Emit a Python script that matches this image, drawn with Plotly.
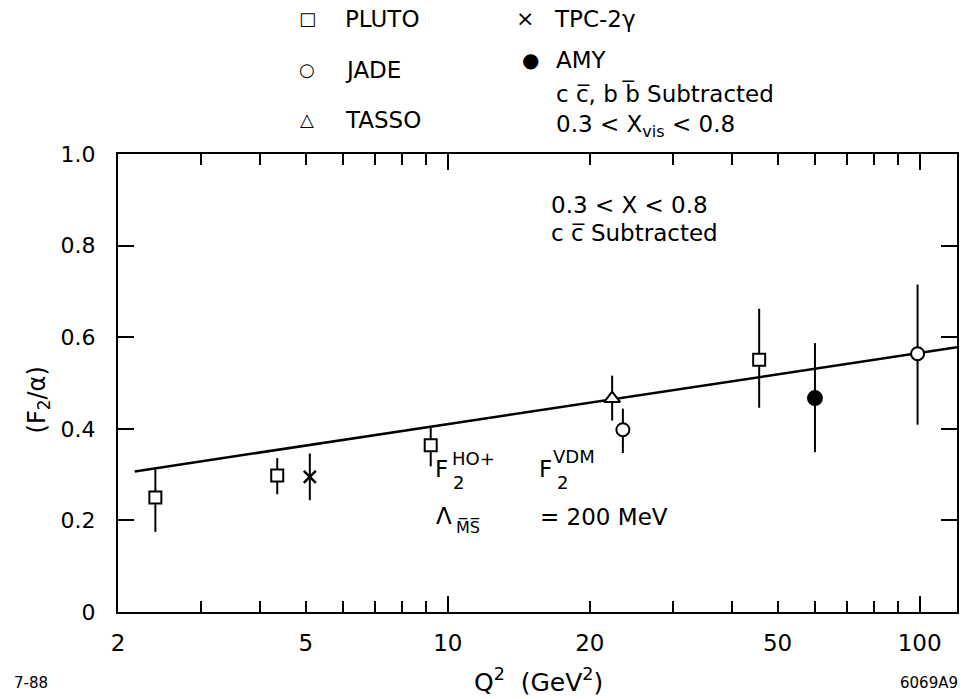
import math
import plotly.graph_objects as go

# ---------------- data ----------------
pluto_q2 = [2.4, 4.35, 9.2, 45.7]
pluto_f = [0.250, 0.298, 0.364, 0.551]
pluto_up = [0.061, 0.038, 0.038, 0.111]
pluto_dn = [0.075, 0.041, 0.046, 0.105]

tpc_q2 = [5.1]
tpc_f = [0.295]
tpc_up = [0.051]
tpc_dn = [0.051]

jade_q2 = [23.5, 99.0]
jade_f = [0.398, 0.564]
jade_up = [0.046, 0.151]
jade_dn = [0.051, 0.155]

tasso_q2 = [22.3]
tasso_f = [0.466]
tasso_up = [0.050]
tasso_dn = [0.048]

amy_q2 = [60.0]
amy_f = [0.467]
amy_up = [0.120]
amy_dn = [0.118]

theory_q2 = [2.17, 120.0]
theory_f = [0.307, 0.578]

x_tick_vals = [2, 5, 10, 20, 50, 100]
x_tick_text = ["2", "5", "10", "20", "50", "100"]
x_minor_vals = [3, 4, 6, 7, 8, 9, 30, 40, 60, 70, 80, 90]
x_long_vals = [10, 100]
y_tick_vals = [0, 0.2, 0.4, 0.6, 0.8, 1.0]
y_tick_text = ["0", "0.2", "0.4", "0.6", "0.8", "1.0"]

FONT = "DejaVu Sans"
BLACK = "black"

fig = go.Figure()

fig.add_trace(go.Scatter(x=theory_q2, y=theory_f, mode="lines",
                         line=dict(color=BLACK, width=2.5), showlegend=False))


def err(up, dn):
    return dict(type="data", symmetric=False, array=up, arrayminus=dn,
                color=BLACK, thickness=2, width=0)


def add_points(q2, f, up, dn, symbol, fill, size, lw=2):
    fig.add_trace(go.Scatter(
        x=q2, y=f, mode="markers", error_y=err(up, dn),
        marker=dict(symbol=symbol, size=size, color=fill,
                    line=dict(color=BLACK, width=lw)),
        showlegend=False))


add_points(pluto_q2, pluto_f, pluto_up, pluto_dn, "square", "white", 12)
add_points(tpc_q2, tpc_f, tpc_up, tpc_dn, "x-thin", BLACK, 12, 2.5)
add_points(jade_q2, jade_f, jade_up, jade_dn, "circle", "white", 13)
add_points(tasso_q2, tasso_f, tasso_up, tasso_dn, "triangle-up", "white", 14)
add_points(amy_q2, amy_f, amy_up, amy_dn, "circle", BLACK, 14)

# invisible trace for the overlay axis that draws the long ticks
fig.add_trace(go.Scatter(x=x_long_vals, y=[0.5, 0.5], xaxis="x2", mode="markers",
                         marker=dict(opacity=0), hoverinfo="skip", showlegend=False))

xr = [math.log10(2), math.log10(120)]

fig.update_layout(
    width=963, height=699,
    margin=dict(l=118, r=4, t=154, b=87),
    paper_bgcolor="white", plot_bgcolor="white",
    font=dict(family=FONT, color=BLACK),
    showlegend=False,
    xaxis=dict(type="log", range=xr, tickmode="array", tickvals=x_tick_vals,
               ticktext=x_tick_text, ticks="inside", ticklen=11, tickwidth=2,
               tickcolor=BLACK, showline=True, linewidth=2, linecolor=BLACK,
               mirror="ticks", showgrid=False, zeroline=False,
               tickfont=dict(size=23, family=FONT), ticklabelstandoff=9,
               minor=dict(tickmode="array", tickvals=x_minor_vals, ticks="inside",
                          ticklen=11, tickwidth=2, tickcolor=BLACK, showgrid=False)),
    xaxis2=dict(type="log", range=xr, overlaying="x", anchor="y", side="bottom",
                tickmode="array", tickvals=x_long_vals, ticks="inside", ticklen=16,
                tickwidth=2, tickcolor=BLACK, showticklabels=False, showline=False,
                mirror="ticks", showgrid=False, zeroline=False),
    yaxis=dict(range=[0, 1], tickmode="array", tickvals=y_tick_vals,
               ticktext=y_tick_text, ticks="inside", ticklen=16, tickwidth=2,
               tickcolor=BLACK, showline=True, linewidth=2, linecolor=BLACK,
               mirror="ticks", showgrid=False, zeroline=False,
               tickfont=dict(size=22, family=FONT), ticklabelstandoff=16),
)

L, R, T, B = 118.0, 959.3, 154.0, 611.7


def px(xp):
    return (xp - L) / (R - L)


def py(yp):
    return (B - yp) / (B - T)


def txt(text, xp, yp, size=23, xanchor="left", yanchor="middle", angle=0):
    fig.add_annotation(text=text, x=px(xp), y=py(yp), xref="paper", yref="paper",
                       xanchor=xanchor, yanchor=yanchor, showarrow=False,
                       textangle=angle, font=dict(family=FONT, size=size, color=BLACK))


# legend block above the plot
txt("\u25a1", 308, 19, 18, "center")
txt("PLUTO", 344, 19)
txt("\u25cb", 308, 70, 18, "center")
txt("JADE", 344, 70)
txt("\u25b3", 308, 120, 18, "center")
txt("TASSO", 344, 120)
txt("\u00d7", 526, 19, 22, "center")
txt("TPC-2\u03b3", 553, 19)
txt("\u25cf", 532, 60, 20, "center")
txt("AMY", 555, 60)
txt("c c\u0305, b b\u0305 Subtracted", 555, 94)
txt("0.3 < X<sub>vis</sub> < 0.8", 555, 126)

# labels inside the plot
txt("0.3 < X < 0.8", 550, 205)
txt("c c\u0305 Subtracted", 550, 233)

txt("F", 434, 468.5, 23)
txt("HO+", 451, 458, 18)
txt("2", 452, 482, 18)
txt("F", 538, 468.5, 23)
txt("VDM", 552, 456, 18)
txt("2", 556, 482, 18)
txt("\u039b", 435, 516, 23)
txt("M\u0305S\u0305", 455, 527, 16)
txt("= 200 MeV", 539, 517, 23)

# axis titles and corner marks
txt("(F<sub>2</sub>/\u03b1)", 38, 400, 24, "center", "middle", -90)
txt("Q<sup>2</sup>\u00a0\u00a0(GeV<sup>2</sup>)", 540, 680, 25, "center")
txt("7-88", 12, 683, 15)
txt("6069A9", 962, 683, 15, "right")

fig.write_html("out.html",
               config={"displayModeBar": False},
               post_script="document.body.style.margin='0px';"
                           "document.body.style.overflow='hidden';")
